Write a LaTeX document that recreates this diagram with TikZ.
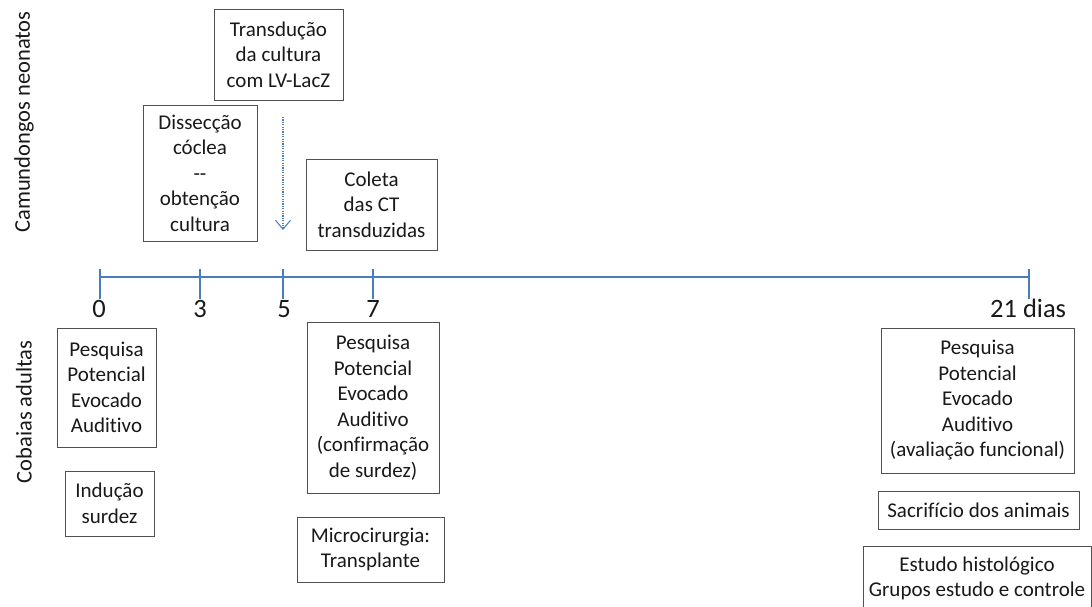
\documentclass[tikz,border=0pt]{standalone}
\usepackage{fontspec}
\setmainfont{Carlito}[Ligatures={NoCommon}]
\usetikzlibrary{arrows.meta}
\definecolor{axisblue}{RGB}{74,126,187}
\definecolor{boxgray}{RGB}{80,80,80}
\definecolor{txt}{RGB}{25,25,25}
\newcommand\boxfont{\fontsize{21}{25.5}\selectfont}
\newcommand\numfont{\fontsize{26.5}{30}\selectfont}
\newcommand\sidefont{\fontsize{22.5}{26}\selectfont}
\tikzset{
  stepbox/.style={draw=boxgray, line width=1pt, rectangle, inner sep=0pt, align=center, font=\boxfont, text=txt},
  axisline/.style={draw=axisblue, line width=1.4pt},
  daylabel/.style={anchor=base, font=\numfont, text=txt, inner sep=0pt},
  sidelabel/.style={rotate=90, font=\sidefont, text=txt, inner sep=0pt},
}
\begin{document}
\begin{tikzpicture}[x=1pt,y=-1pt]
\useasboundingbox (0,0) rectangle (1092,606);
\fill[white] (0,0) rectangle (1092,606);
% side labels
\node[sidelabel] (neo) at (24,122) {Camundongos neonatos};
\node[sidelabel] (cob) at (24,412) {Cobaias adultas};
% axis
\coordinate (t0) at (100,277);
\coordinate (t3) at (200,277);
\coordinate (t5) at (283,277);
\coordinate (t7) at (373,277);
\coordinate (t21) at (1029,277);
\draw[axisline] (t0) -- (t21);
\foreach \t in {t0,t3,t5,t7,t21}{
  \draw[axisline] ([yshift=-22pt]\t) -- ([yshift=8pt]\t);
}
\node[daylabel] (l0) at (99,317) {0};
\node[daylabel] (l3) at (200,317) {3};
\node[daylabel] (l5) at (284,317) {5};
\node[daylabel] (l7) at (373,317) {7};
\node[daylabel, anchor=base west] (l21) at (990,317) {21 dias};
% upper boxes
\node[stepbox, minimum width=129pt, minimum height=91pt] (trans) at (278.5,54.5) {Transdução\\da cultura\\com LV-LacZ};
\node[stepbox, minimum width=114pt, minimum height=136pt] (diss) at (200,173) {Dissecção\\cóclea\\-{}-\\obtenção\\cultura};
\node[stepbox, minimum width=131pt, minimum height=91pt] (coleta) at (371.5,204.5) {Coleta\\das CT\\transduzidas};
% dotted arrow
\coordinate (arrS) at (283,117);
\coordinate (arrE) at (283,230);
\draw[draw=axisblue, line width=1.2pt, dash pattern=on 1.2pt off 1.2pt, -{Straight Barb[length=9pt,width=15pt,line width=1pt]}] (arrS) -- (arrE);
% lower boxes
\node[stepbox, minimum width=99pt, minimum height=119pt] (pea0) at (106.5,387.5) {Pesquisa\\Potencial\\Evocado\\Auditivo};
\node[stepbox, minimum width=89pt, minimum height=65pt] (ind) at (109.5,503.5) {Indução\\surdez};
\node[stepbox, minimum width=132pt, minimum height=171pt] (pea7) at (373,407.5) {Pesquisa\\Potencial\\Evocado\\Auditivo\\(confirmação\\de surdez)};
\node[stepbox, minimum width=147pt, minimum height=65pt] (micro) at (370.5,549.5) {Microcirurgia:\\Transplante};
\node[stepbox, minimum width=193pt, minimum height=145pt] (pea21) at (977.5,400.5) {Pesquisa\\Potencial\\Evocado\\Auditivo\\(avaliação funcional)};
\node[stepbox, minimum width=201pt, minimum height=38pt] (sacr) at (978.5,510) {Sacrifício dos animais};
\node[stepbox, minimum width=228pt, minimum height=65pt] (estudo) at (977,578.5) {Estudo histológico\\Grupos estudo e controle};
\end{tikzpicture}
\end{document}
